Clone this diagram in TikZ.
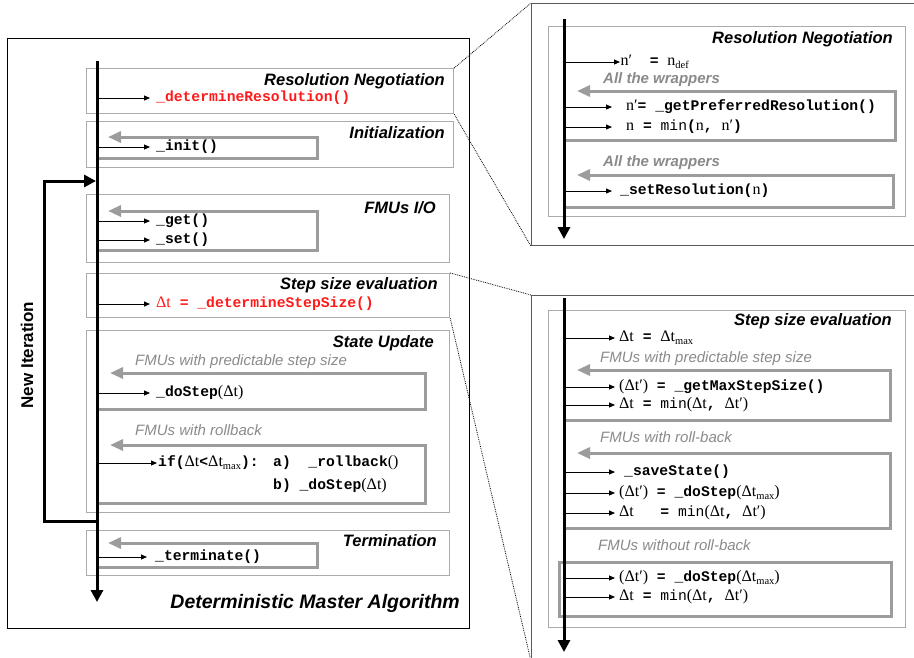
\documentclass[tikz,border=0pt]{standalone}
\usepackage{fontspec}
\setmainfont{Liberation Sans}
\newfontfamily\monofont{Liberation Mono}
\newfontfamily\seriffont{Liberation Serif}
\usetikzlibrary{arrows.meta}
\definecolor{callred}{HTML}{FF1A1A}
\definecolor{boxgray}{HTML}{ABABAB}
\definecolor{loopgray}{HTML}{9C9C9C}
\definecolor{notegray}{HTML}{8A8A8A}
\definecolor{zoomgray}{HTML}{5A5A5A}
\newcommand{\vr}[1]{{\seriffont\mdseries\fontsize{16}{16}\selectfont #1}}
\newcommand{\mn}[1]{{\mdseries #1}}
\newcommand{\lowsub}[1]{\raisebox{-0.35ex}{\seriffont\mdseries\fontsize{10.5}{10.5}\selectfont #1}}
\begin{document}
\begin{tikzpicture}[x=1pt,y=-1pt,
		secbox/.style={draw=boxgray, line width=1.2pt, anchor=north west, inner sep=0pt},
		zoombox/.style={draw=zoomgray, line width=1.2pt, anchor=north west, inner sep=0pt},
		axis/.style={line width=3pt, -{Triangle[length=12pt,width=12pt]}},
		iter/.style={line width=3pt, -{Triangle[length=12pt,width=12pt]}},
		call/.style={line width=0.9pt, -{Triangle[length=6pt,width=5pt]}},
		loopline/.style={draw=loopgray, line width=3pt, -{Triangle[length=13pt,width=11pt]}},
		zoomline/.style={densely dotted, line width=0.8pt},
		heading/.style={font=\fontsize{16.5}{18}\selectfont\bfseries\itshape, inner sep=0pt, anchor=base east},
		note/.style={font=\fontsize{15}{17}\selectfont\itshape, text=notegray, inner sep=0pt, anchor=base west},
		wrapnote/.style={note, font=\fontsize{15}{17}\selectfont\bfseries\itshape},
		code/.style={font=\monofont\bfseries\fontsize{14.7}{16}\selectfont, anchor=west, inner xsep=6pt, inner ysep=0pt, text height=10pt, text depth=3pt}]
	\useasboundingbox (0,0) rectangle (914,657);

	% left: deterministic master algorithm
	\node[draw, line width=1pt, minimum width=462pt, minimum height=590pt, anchor=north west, inner sep=0pt] (mainbox) at (7,38) {};
	\node[secbox, minimum width=367pt, minimum height=45pt] (resbox) at (86,68) {};
	\node[secbox, minimum width=367pt, minimum height=46pt] (initbox) at (86,121) {};
	\node[secbox, minimum width=363pt, minimum height=68pt] (iobox) at (86,194) {};
	\node[secbox, minimum width=363pt, minimum height=44pt] (stepbox) at (86,273) {};
	\node[secbox, minimum width=363pt, minimum height=182pt] (updbox) at (86,330) {};
	\node[secbox, minimum width=363pt, minimum height=45pt] (termbox) at (86,530) {};

	\node[heading] (resT) at (445,85) {Resolution Negotiation};
	\node[heading] (initT) at (445,138) {Initialization};
	\node[heading] (ioT) at (436,213) {FMUs I/O};
	\node[heading] (stepT) at (438,289) {Step size evaluation};
	\node[heading] (updT) at (434,347) {State Update};
	\node[heading] (termT) at (437,546) {Termination};
	\node[heading, font=\fontsize{19.5}{22}\selectfont\bfseries\itshape] (algT) at (460,608) {Deterministic Master Algorithm};
	\node[font=\fontsize{17}{19}\selectfont\bfseries, rotate=90] (iterT) at (27,355) {New Iteration};

	\node[note] (predN) at (135,365) {FMUs with predictable step size};
	\node[note] (rollN) at (135,435) {FMUs with rollback};

	\draw[loopline] (97,158) -| (317,137) -- (108,137);
	\draw[loopline] (97,250) -| (317,211) -- (108,211);
	\draw[loopline] (97,409) -| (425,373) -- (110,373);
	\draw[loopline] (97,503) -| (425,445) -- (110,445);
	\draw[loopline] (97,567) -| (317,543) -- (108,543);

	\coordinate (axL) at (97,61);
	\node[code, text=callred] (detres) at (150,98) {\_determineResolution()};
	\node[code] (init) at (150,147) {\_init()};
	\node[code] (get) at (150,221) {\_get()};
	\node[code] (set) at (150,240) {\_set()};
	\node[code, text=callred] (detstep) at (150,304) {\vr{Δt} = \_determineStepSize()};
	\node[code] (dostep) at (150,393) {\_doStep\vr{(Δt)}};
	\node[code, inner xsep=1pt] (ifroll) at (157,463) {if(\vr{Δt}<\vr{Δt}\lowsub{max}):};
	\node[code, inner xsep=0pt] (rollA) at (273,463) {a)~~\_rollback\vr{()}};
	\node[code, inner xsep=0pt] (rollB) at (273,486) {b)~\_doStep\vr{(Δt)}};
	\node[code, inner xsep=8pt] (term) at (147,557) {\_terminate()};

	\draw[call] (axL |- detres.west) -- (detres.west);
	\draw[call] (axL |- init.west) -- (init.west);
	\draw[call] (axL |- get.west) -- (get.west);
	\draw[call] (axL |- set.west) -- (set.west);
	\draw[call] (axL |- detstep.west) -- (detstep.west);
	\draw[call] (axL |- dostep.west) -- (dostep.west);
	\draw[call] (axL |- ifroll.west) -- (ifroll.west);
	\draw[call] (axL |- term.west) -- (term.west);

	\draw[axis] (axL) -- (97,602);
	\coordinate (iterfrom) at (97,521);
	\coordinate (iterto) at (96,181);
	\draw[iter] (iterfrom) -- (44,521) -- (44,181) -- (iterto);

	% right top: resolution negotiation
	\node[zoombox, minimum width=400pt, minimum height=242pt] (zoomA) at (531,3) {};
	\node[secbox, minimum width=357pt, minimum height=190pt] (innerA) at (548,26) {};
	\node[heading] (resTA) at (893,43) {Resolution Negotiation};
	\node[wrapnote] (wrapA) at (603,83) {All the wrappers};
	\node[wrapnote] (wrapB) at (603,166) {All the wrappers};

	\draw[loopline] (564,140) -| (895,91) -- (577,91);
	\draw[loopline] (564,207) -| (893,175) -- (577,175);

	\coordinate (axA) at (564,19);
	\node[code, inner xsep=0.5pt] (ndef) at (620,62) {\vr{n′}~~=~\vr{n}\lowsub{def}};
	\node[code, inner xsep=14pt] (npref) at (612,107) {\vr{n′}= \_getPreferredResolution()};
	\node[code, inner xsep=14pt] (nmin) at (612,127) {\vr{n} = \mn{min}(\vr{n}, \vr{n′})};
	\node[code, inner xsep=8pt] (setres) at (612,191) {\_setResolution(\vr{n})};

	\draw[call] (axA |- ndef.west) -- (ndef.west);
	\draw[call] (axA |- npref.west) -- (npref.west);
	\draw[call] (axA |- nmin.west) -- (nmin.west);
	\draw[call] (axA |- setres.west) -- (setres.west);
	\draw[axis] (axA) -- (564,239);

	% right bottom: step size evaluation
	\node[zoombox, minimum width=400pt, minimum height=365pt] (zoomB) at (531,295) {};
	\node[secbox, minimum width=357pt, minimum height=317pt] (innerB) at (548,310) {};
	\node[heading] (stepTB) at (892,325) {Step size evaluation};
	\node[note] (predNB) at (600,362) {FMUs with predictable step size};
	\node[note] (rollNB) at (600,442) {FMUs with roll-back};
	\node[note] (norollN) at (598,550) {FMUs without roll-back};

	\draw[loopline] (564,420) -| (890,370) -- (577,370);
	\draw[loopline] (564,528) -| (890,453) -- (577,453);
	\node[draw=loopgray, line width=3pt, minimum width=332pt, minimum height=54pt, anchor=north west, inner sep=0pt] (norollbox) at (558,561) {};

	\coordinate (axB) at (564,298);
	\node[code, inner xsep=4pt] (dtmax) at (615,338) {\vr{Δt}~=~\vr{Δt}\lowsub{max}};
	\node[code, inner xsep=4pt] (getmax) at (615,387) {\vr{(Δt′)} = \_getMaxStepSize()};
	\node[code, inner xsep=4pt] (minA) at (615,405) {\vr{Δt}~=~\mn{min}\vr{(Δt},~\vr{Δt′)}};
	\node[code, inner xsep=9pt] (save) at (615,472) {\_saveState()};
	\node[code, inner xsep=4pt] (dostepA) at (615,493) {\vr{(Δt′)} = \_doStep\vr{(Δt}\lowsub{max}\vr{)}};
	\node[code, inner xsep=4pt] (minB) at (615,513) {\vr{Δt}~~~=~\mn{min}\vr{(Δt},~\vr{Δt′)}};
	\node[code, inner xsep=4pt] (dostepB) at (615,578) {\vr{(Δt′)} = \_doStep\vr{(Δt}\lowsub{max}\vr{)}};
	\node[code, inner xsep=4pt] (minC) at (615,597) {\vr{Δt}~=~\mn{min}\vr{(Δt},~\vr{Δt′)}};

	\draw[call] (axB |- dtmax.west) -- (dtmax.west);
	\draw[call] (axB |- getmax.west) -- (getmax.west);
	\draw[call] (axB |- minA.west) -- (minA.west);
	\draw[call] (axB |- save.west) -- (save.west);
	\draw[call] (axB |- dostepA.west) -- (dostepA.west);
	\draw[call] (axB |- minB.west) -- (minB.west);
	\draw[call] (axB |- dostepB.west) -- (dostepB.west);
	\draw[call] (axB |- minC.west) -- (minC.west);
	\draw[axis] (axB) -- (564,652);

	% zoom connectors
	\draw[zoomline] (resbox.north east) -- (zoomA.north west);
	\draw[zoomline] (resbox.south east) -- (zoomA.south west);
	\draw[zoomline] (stepbox.north east) -- (zoomB.north west);
	\draw[zoomline] (stepbox.south east) -- (zoomB.south west);
\end{tikzpicture}
\end{document}
